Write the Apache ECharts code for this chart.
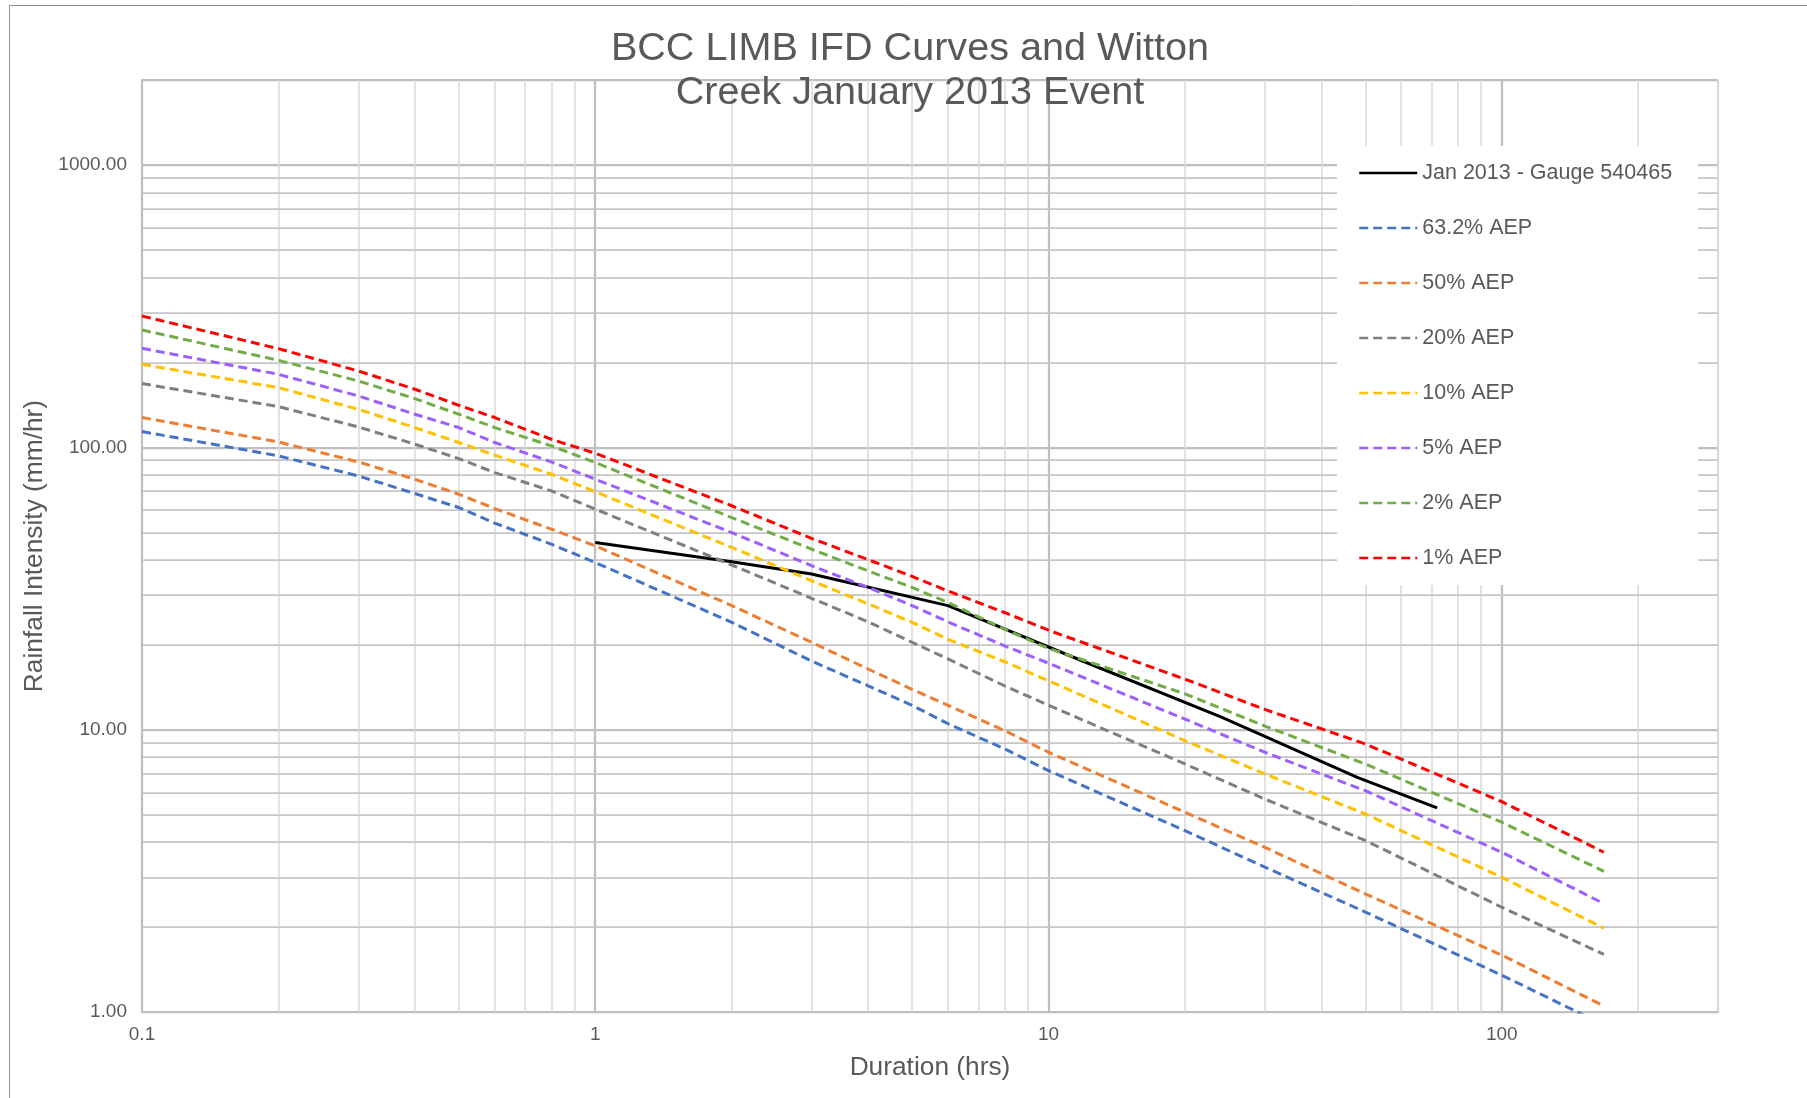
<!DOCTYPE html>
<html>
<head>
<meta charset="utf-8">
<title>BCC LIMB IFD Curves and Witton Creek January 2013 Event</title>
<script src="https://cdn.jsdelivr.net/npm/echarts@6/dist/echarts.min.js"></script>
<style>
    html, body { margin: 0; padding: 0; background: #fff; }
    #main { width: 1807px; height: 1098px; }
</style>
</head>
<body>
<div id="main"></div>
<script>
    // durations (hrs) the IFD curves were read at
    var durations = [0.1, 0.2, 0.3, 0.4, 0.5, 0.6, 0.8, 1, 2, 3, 4, 5, 6, 8, 10, 20, 30, 50, 100, 168];

    // rainfall intensity (mm/hr) per AEP
    var aep632 = [113.7, 93.3, 79.2, 68.6, 61.2, 53.9, 45.4, 39.1, 24.0, 17.5, 14.3, 12.2, 10.5, 8.55, 7.16, 4.39, 3.26, 2.26, 1.35, 0.90];
    var aep50 = [127.5, 104.5, 88.8, 77.1, 68.2, 60.7, 51.3, 44.8, 27.5, 20.4, 16.4, 13.9, 12.2, 9.92, 8.32, 5.10, 3.83, 2.62, 1.59, 1.05];
    var aep20 = [168.2, 139.4, 118.1, 102.6, 91.2, 81.4, 70.1, 60.4, 38.3, 29.2, 24.1, 20.4, 17.8, 14.3, 12.2, 7.56, 5.68, 4.05, 2.35, 1.60];
    var aep10 = [196.8, 162.7, 136.4, 117.5, 104.0, 93.8, 80.3, 69.6, 44.2, 33.7, 27.9, 24.0, 20.9, 17.4, 14.9, 9.15, 6.97, 5.03, 3.00, 1.98];
    var aep5 = [224.2, 181.4, 152.1, 131.0, 117.5, 104.0, 88.8, 77.1, 49.9, 38.1, 31.9, 27.5, 24.1, 19.8, 17.2, 10.9, 8.32, 6.08, 3.68, 2.42];
    var aep2 = [260.4, 203.3, 171.8, 148.8, 131.0, 117.5, 101.2, 88.3, 56.4, 43.6, 36.5, 31.9, 28.2, 22.7, 19.4, 13.4, 10.3, 7.56, 4.70, 3.15];
    var aep1 = [291.8, 223.6, 186.4, 160.6, 140.9, 127.5, 106.8, 95.3, 62.1, 47.6, 40.0, 34.9, 31.0, 26.0, 22.5, 15.1, 11.8, 8.90, 5.56, 3.68];

    // Jan 2013 event, gauge 540465
    var gaugeDur = [1, 2, 3, 6, 12, 24, 48, 72];
    var gaugeInt = [46.0, 39.3, 35.6, 27.5, 17.4, 11.1, 6.78, 5.28];

    // minor gridlines (log cycles)
    var xMinor = [0.2, 0.3, 0.4, 0.5, 0.6, 0.7, 0.8, 0.9, 2, 3, 4, 5, 6, 7, 8, 9, 20, 30, 40, 50, 60, 70, 80, 90, 200];
    var yMinor = [2, 3, 4, 5, 6, 7, 8, 9, 20, 30, 40, 50, 60, 70, 80, 90, 200, 300, 400, 500, 600, 700, 800, 900];

    var font = "'Liberation Sans', Arial, sans-serif";
    var textColor = '#595959';

    function pairs(xs, ys) {
        return xs.map(function (x, i) { return [x, ys[i]]; });
    }

    function isDecade(v) {
        var l = Math.log10(v);
        return Math.abs(l - Math.round(l)) < 1e-6;
    }

    var ifd = [
        { name: '63.2% AEP', data: aep632, color: '#4472c4' },
        { name: '50% AEP', data: aep50, color: '#ed7d31' },
        { name: '20% AEP', data: aep20, color: '#7f7f7f' },
        { name: '10% AEP', data: aep10, color: '#ffc000' },
        { name: '5% AEP', data: aep5, color: '#9c5fff' },
        { name: '2% AEP', data: aep2, color: '#70ad47' },
        { name: '1% AEP', data: aep1, color: '#ff0000' }
    ];

    var series = [{
        name: 'Jan 2013 - Gauge 540465',
        type: 'line',
        data: pairs(gaugeDur, gaugeInt),
        symbol: 'none',
        color: '#000000',
        lineStyle: { color: '#000000', width: 3 }
    }];
    ifd.forEach(function (s) {
        series.push({
            name: s.name,
            type: 'line',
            data: pairs(durations, s.data),
            symbol: 'none',
            color: s.color,
            lineStyle: { color: s.color, width: 3, type: [9, 5] }
        });
    });

    // minor gridlines drawn through the axes as mark lines
    var gridLines = xMinor.map(function (v) {
        return { xAxis: v, lineStyle: { color: '#d9d9d9', width: 1.5, type: 'solid' } };
    }).concat(yMinor.map(function (v) {
        return { yAxis: v, lineStyle: { color: '#c6c6c6', width: 1.75, type: 'solid' } };
    }));
    series.push({
        name: 'minor grid',
        type: 'line',
        data: [],
        silent: true,
        markLine: {
            silent: true,
            z: 1,
            symbol: ['none', 'none'],
            label: { show: false },
            emphasis: { disabled: true },
            data: gridLines
        }
    });

    var option = {
        animation: false,
        textStyle: { fontFamily: font },
        title: {
            text: 'BCC LIMB IFD Curves and Witton\nCreek January 2013 Event',
            left: 910,
            top: 27,
            textAlign: 'center',
            padding: 0,
            textStyle: {
                fontSize: 39.6,
                fontWeight: 'normal',
                color: textColor,
                lineHeight: 44,
                fontFamily: font
            }
        },
        grid: {
            left: 142,
            right: 89,
            top: 80,
            bottom: 86
        },
        legend: {
            orient: 'vertical',
            left: 1337,
            top: 146,
            padding: [16, 26, 16, 21],
            backgroundColor: '#ffffff',
            itemWidth: 58,
            itemHeight: 14,
            itemGap: 33,
            itemStyle: { opacity: 0 },
            lineStyle: { width: 2.5 },
            textStyle: { fontSize: 21.5, color: textColor, lineHeight: 22, fontFamily: font },
            data: ['Jan 2013 - Gauge 540465'].concat(ifd.map(function (s) { return s.name; }))
        },
        xAxis: {
            type: 'log',
            logBase: 10,
            min: 0.1,
            max: 300,
            name: 'Duration (hrs)',
            nameLocation: 'middle',
            nameGap: 43,
            nameTextStyle: { fontSize: 26.3, color: textColor, fontFamily: font },
            axisLine: { show: true, lineStyle: { color: '#bfbfbf', width: 2 } },
            axisTick: { show: false },
            axisLabel: {
                margin: 13,
                fontSize: 19,
                color: textColor,
                fontFamily: font,
                formatter: function (v) { return isDecade(v) ? String(v) : ''; }
            },
            splitLine: {
                show: true,
                lineStyle: { color: ['#bfbfbf', '#bfbfbf', '#bfbfbf', '#bfbfbf', '#d9d9d9'], width: 2.25 }
            }
        },
        yAxis: {
            type: 'log',
            logBase: 10,
            min: 1,
            max: 2000,
            name: 'Rainfall Intensity (mm/hr)',
            nameLocation: 'middle',
            nameGap: 91,
            nameTextStyle: { fontSize: 26.3, color: textColor, fontFamily: font },
            axisLine: { show: true, lineStyle: { color: '#bfbfbf', width: 2 } },
            axisTick: { show: false },
            axisLabel: {
                margin: 15,
                fontSize: 19,
                color: textColor,
                fontFamily: font,
                formatter: function (v) { return isDecade(v) ? v.toFixed(2) : ''; }
            },
            splitLine: {
                show: true,
                lineStyle: { color: '#bfbfbf', width: 2.25 }
            }
        },
        graphic: [{
            type: 'rect',
            silent: true,
            shape: { x: 9.5, y: 5.5, width: 1900, height: 1200 },
            style: { fill: null, stroke: '#8f8f8f', lineWidth: 1 }
        }],
        series: series
    };

    var myChart = echarts.init(document.getElementById('main'));
    myChart.setOption(option);
    window.addEventListener('resize', function () {
        myChart.resize();
    });
</script>
</body>
</html>
